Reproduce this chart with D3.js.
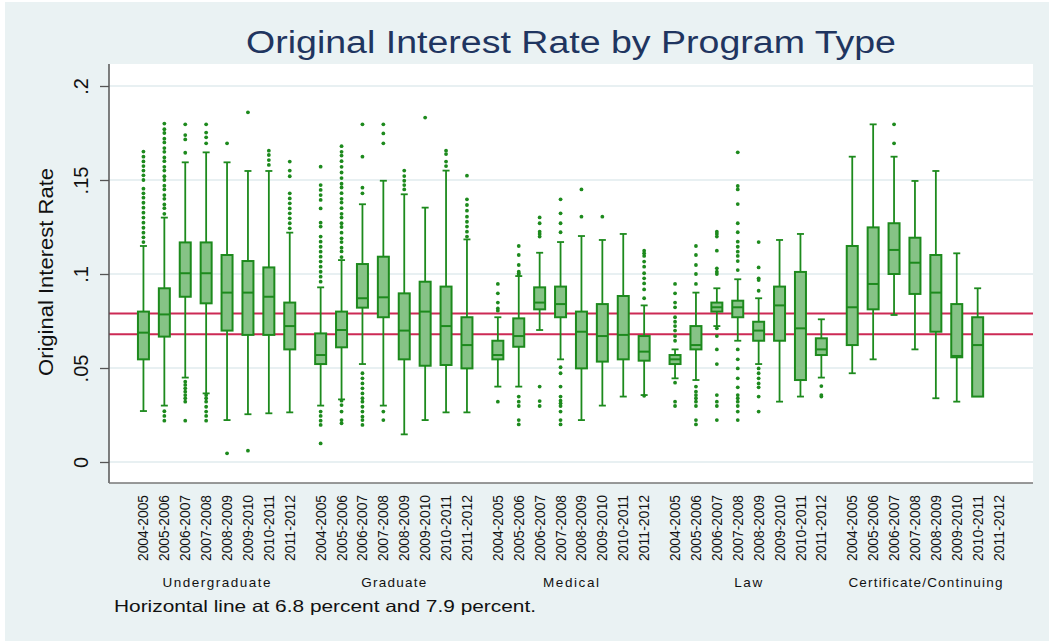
<!DOCTYPE html>
<html>
<head>
<meta charset="utf-8">
<script src="https://cdn.jsdelivr.net/npm/d3@7"></script>
<style>
    body { margin: 0; background: #ffffff; }
    svg { display: block; font-family: "Liberation Sans", Arial, Helvetica, sans-serif; }
</style>
</head>
<body>
<svg id="chart" width="1049" height="641"></svg>
<script>
const programs = ['Undergraduate', 'Graduate', 'Medical', 'Law', 'Certificate/Continuing'];
const years = ['2004-2005', '2005-2006', '2006-2007', '2007-2008', '2008-2009', '2009-2010', '2010-2011', '2011-2012'];
const yTicks = [0, 0.05, 0.1, 0.15, 0.2];
const yTickLabels = ['0', '.05', '.1', '.15', '.2'];
const refLines = [0.068, 0.079];

// one row per program, one value per year (null = no loans that year)
const upperWhisker = [
    [0.1149, 0.1300, 0.1594, 0.1647, 0.1594, 0.1548, 0.1548, 0.1220],
    [0.0929, 0.1074, 0.1371, 0.1496, 0.1424, 0.1353, 0.1550, 0.1184],
    [0.0770, 0.0989, 0.1113, 0.1170, 0.1202, 0.1181, 0.1213, 0.0833],
    [0.0599, 0.0901, 0.0924, 0.0972, 0.0871, 0.1181, 0.1213, 0.0759],
    [0.1624, 0.1796, 0.1624, 0.1495, 0.1548, 0.1110, 0.0924, null],
];
const q3 = [
    [0.0800, 0.0924, 0.1168, 0.1168, 0.1101, 0.1069, 0.1035, 0.0848],
    [0.0684, 0.0800, 0.1053, 0.1092, 0.0897, 0.0959, 0.0933, 0.0770],
    [0.0645, 0.0764, 0.0929, 0.0933, 0.0800, 0.0840, 0.0883, 0.0670],
    [0.0569, 0.0723, 0.0848, 0.0858, 0.0746, 0.0933, 0.1011, 0.0658],
    [0.1149, 0.1248, 0.1270, 0.1193, 0.1101, 0.0840, 0.0770, null],
];
const median = [
    [0.0688, 0.0785, 0.1004, 0.1004, 0.0901, 0.0901, 0.0879, 0.0723],
    [0.0569, 0.0702, 0.0871, 0.0876, 0.0699, 0.0800, 0.0723, 0.0622],
    [0.0569, 0.0670, 0.0848, 0.0840, 0.0693, 0.0670, 0.0676, 0.0587],
    [0.0546, 0.0622, 0.0823, 0.0823, 0.0699, 0.0833, 0.0711, 0.0599],
    [0.0823, 0.0947, 0.1128, 0.1060, 0.0901, 0.0564, 0.0622, null],
];
const q1 = [
    [0.0546, 0.0667, 0.0879, 0.0844, 0.0699, 0.0676, 0.0676, 0.0599],
    [0.0521, 0.0610, 0.0821, 0.0770, 0.0546, 0.0512, 0.0516, 0.0498],
    [0.0546, 0.0613, 0.0812, 0.0770, 0.0498, 0.0534, 0.0546, 0.0539],
    [0.0521, 0.0599, 0.0800, 0.0770, 0.0645, 0.0645, 0.0436, 0.0569],
    [0.0622, 0.0812, 0.1000, 0.0894, 0.0693, 0.0557, 0.0348, null],
];
const lowerWhisker = [
    [0.0271, 0.0300, 0.0449, 0.0365, 0.0223, 0.0254, 0.0259, 0.0264],
    [0.0300, 0.0333, 0.0521, 0.0300, 0.0147, 0.0223, 0.0264, 0.0264],
    [0.0401, 0.0401, 0.0702, 0.0546, 0.0223, 0.0300, 0.0348, 0.0356],
    [0.0445, 0.0436, 0.0723, 0.0645, 0.0521, 0.0321, 0.0348, 0.0449],
    [0.0472, 0.0546, 0.0782, 0.0599, 0.0339, 0.0321, 0.0348, null],
];
const outliers = [
    [
        [0.117, 0.1195, 0.122, 0.1246, 0.1273, 0.130, 0.1326, 0.1353, 0.1379, 0.1406, 0.1429, 0.1454, 0.150, 0.1525, 0.155, 0.1574, 0.1599, 0.1624, 0.1651],
        [0.132, 0.135, 0.137, 0.140, 0.142, 0.145, 0.147, 0.150, 0.152, 0.155, 0.157, 0.160, 0.162, 0.165, 0.167, 0.170, 0.172, 0.175, 0.177, 0.180, 0.027, 0.0245, 0.022],
        [0.1645, 0.1716, 0.1739, 0.1796, 0.0427, 0.041, 0.0392, 0.0374, 0.0356, 0.0339, 0.0321, 0.022],
        [0.1695, 0.1727, 0.1752, 0.1796, 0.0356, 0.0339, 0.0321, 0.0294, 0.0268, 0.0245, 0.022],
        [0.1695, 0.0046],
        [0.186, 0.006],
        [0.1656, 0.1633, 0.1606, 0.158],
        [0.1598, 0.155, 0.152, 0.1429, 0.1402, 0.1376, 0.1349, 0.1323, 0.1296, 0.127, 0.1243],
    ],
    [
        [0.1571, 0.1473, 0.1447, 0.142, 0.1394, 0.1349, 0.1273, 0.1252, 0.1199, 0.1172, 0.1145, 0.1119, 0.1092, 0.1066, 0.1039, 0.1012, 0.0986, 0.0959, 0.0268, 0.0245, 0.022, 0.0197, 0.0099],
        [0.109, 0.112, 0.114, 0.117, 0.119, 0.122, 0.125, 0.127, 0.130, 0.132, 0.135, 0.138, 0.140, 0.143, 0.146, 0.148, 0.151, 0.154, 0.157, 0.160, 0.163, 0.165, 0.168, 0.0326, 0.0303, 0.0268, 0.0223, 0.0206],
        [0.1796, 0.1624, 0.1459, 0.1429, 0.0472, 0.0445, 0.0418, 0.0392, 0.0365, 0.0339, 0.0321, 0.0294, 0.0268, 0.0241, 0.0223, 0.0197],
        [0.1796, 0.1748, 0.1695, 0.0268, 0.0223],
        [0.155, 0.1521, 0.1496, 0.1473, 0.145],
        [0.1832],
        [0.1656, 0.1638, 0.1598, 0.1574],
        [0.1523, 0.1397, 0.1367, 0.1337, 0.1305, 0.1278, 0.1252, 0.1225, 0.1199],
    ],
    [
        [0.0947, 0.0897, 0.0848, 0.0817, 0.0805, 0.0321],
        [0.1149, 0.1101, 0.1048, 0.1012, 0.1004, 0.0995, 0.0348, 0.0321, 0.0298, 0.0223, 0.020],
        [0.1301, 0.127, 0.1225, 0.1213, 0.1199, 0.0401, 0.0324, 0.0298],
        [0.1397, 0.1323, 0.127, 0.1222, 0.0504, 0.0472, 0.0401, 0.0348, 0.0326, 0.0312, 0.0298, 0.0268, 0.0223, 0.020],
        [0.145, 0.1305],
        [0.1305],
        [],
        [0.1124, 0.111, 0.1096, 0.1066, 0.1039, 0.1004, 0.0977, 0.095, 0.0918, 0.0871, 0.0352],
    ],
    [
        [0.0947, 0.0897, 0.0848, 0.0823, 0.077, 0.0746, 0.0723, 0.0699, 0.067, 0.0645, 0.0422, 0.0321, 0.0298],
        [0.1149, 0.1101, 0.1048, 0.100, 0.0947, 0.0401, 0.0374, 0.0356, 0.0339, 0.0321, 0.0298, 0.0223, 0.020],
        [0.1225, 0.1213, 0.1199, 0.1124, 0.103, 0.1012, 0.100, 0.0711, 0.067, 0.0599, 0.0521, 0.0356, 0.0321, 0.0298, 0.0223],
        [0.1647, 0.1468, 0.145, 0.1372, 0.127, 0.1222, 0.1172, 0.1145, 0.1119, 0.1096, 0.1069, 0.1021, 0.0599, 0.0546, 0.0498, 0.0445, 0.0397, 0.0356, 0.0339, 0.0321, 0.0298, 0.0268, 0.0223],
        [0.117, 0.1035, 0.0977, 0.0968, 0.0911, 0.0498, 0.0472, 0.0445, 0.0418, 0.0397, 0.0348, 0.0268],
        [],
        [],
        [0.0404, 0.0356, 0.0348],
    ],
    [
        [], [], [0.1796, 0.1695], [], [], [], [], [],
    ],
];

const svg = d3.select('#chart');
const W = 1049;
const H = 641;
const plot = { left: 109, right: 1033, top: 64, bottom: 483 };
const boxColor = '#1d8a1d';
const boxFill = '#86c386';

const y = d3.scaleLinear().domain([0, 0.2]).range([462, 86]);
const outer = d3.scaleBand()
    .domain(programs)
    .range([plot.left, plot.right])
    .paddingInner(0.0564)
    .paddingOuter(0.1354);
const inner = d3.scaleBand().domain(years).range([0, outer.bandwidth()]);

function cx(pi, yi)
{
    return outer(programs[pi]) + inner(years[yi]) + inner.bandwidth() / 2;
}

// background regions
svg.append('rect').attr('x', 5).attr('y', 2).attr('width', W - 5).attr('height', H - 2).attr('fill', '#eaf2f3');
svg.append('rect')
    .attr('x', plot.left)
    .attr('y', plot.top)
    .attr('width', plot.right - plot.left)
    .attr('height', plot.bottom - plot.top)
    .attr('fill', '#ffffff');

// grid
svg.append('g')
    .selectAll('line')
    .data(yTicks)
    .join('line')
    .attr('x1', plot.left)
    .attr('x2', plot.right)
    .attr('y1', (d) => y(d))
    .attr('y2', (d) => y(d))
    .attr('stroke', '#e8f0f2')
    .attr('stroke-width', 2);

// reference lines
svg.append('g')
    .selectAll('line')
    .data(refLines)
    .join('line')
    .attr('x1', plot.left)
    .attr('x2', plot.right)
    .attr('y1', (d) => y(d))
    .attr('y2', (d) => y(d))
    .attr('stroke', '#cc2a55')
    .attr('stroke-width', 2);

// y axis
const yAxis = svg.append('g')
    .attr('transform', `translate(${plot.left},0)`)
    .call(d3.axisLeft(y)
        .tickValues(yTicks)
        .tickSize(9)
        .tickFormat((d, i) => yTickLabels[i]));
yAxis.select('.domain').remove();
yAxis.selectAll('.tick line').attr('stroke', '#555555').attr('stroke-width', 1.3);
yAxis.selectAll('.tick text')
    .attr('transform', 'rotate(-90)')
    .attr('x', 0)
    .attr('y', -21.5)
    .attr('dy', 0)
    .attr('text-anchor', 'middle')
    .attr('font-size', 20)
    .attr('fill', '#111111');

svg.append('line')
    .attr('x1', plot.left).attr('x2', plot.left)
    .attr('y1', plot.top).attr('y2', plot.bottom)
    .attr('stroke', '#555555').attr('stroke-width', 1.5);
svg.append('line')
    .attr('x1', plot.left).attr('x2', plot.right)
    .attr('y1', plot.bottom).attr('y2', plot.bottom)
    .attr('stroke', '#777777').attr('stroke-width', 1.5);

// boxes
const boxW = 11;
const capW = 7;
const marks = svg.append('g');

programs.forEach((p, pi) =>
{
    years.forEach((yr, yi) =>
    {
        if (median[pi][yi] === null) return;
        const x = cx(pi, yi);
        const g = marks.append('g');

        g.append('line')
            .attr('x1', x).attr('x2', x)
            .attr('y1', y(q3[pi][yi])).attr('y2', y(upperWhisker[pi][yi]))
            .attr('stroke', boxColor).attr('stroke-width', 1.8);
        g.append('line')
            .attr('x1', x - capW / 2).attr('x2', x + capW / 2)
            .attr('y1', y(upperWhisker[pi][yi])).attr('y2', y(upperWhisker[pi][yi]))
            .attr('stroke', boxColor).attr('stroke-width', 1.8);

        if (lowerWhisker[pi][yi] < q1[pi][yi])
        {
            g.append('line')
                .attr('x1', x).attr('x2', x)
                .attr('y1', y(q1[pi][yi])).attr('y2', y(lowerWhisker[pi][yi]))
                .attr('stroke', boxColor).attr('stroke-width', 1.8);
            g.append('line')
                .attr('x1', x - capW / 2).attr('x2', x + capW / 2)
                .attr('y1', y(lowerWhisker[pi][yi])).attr('y2', y(lowerWhisker[pi][yi]))
                .attr('stroke', boxColor).attr('stroke-width', 1.8);
        }

        g.append('rect')
            .attr('x', x - boxW / 2)
            .attr('y', y(q3[pi][yi]))
            .attr('width', boxW)
            .attr('height', y(q1[pi][yi]) - y(q3[pi][yi]))
            .attr('fill', boxFill)
            .attr('stroke', boxColor)
            .attr('stroke-width', 2);
        g.append('line')
            .attr('x1', x - boxW / 2).attr('x2', x + boxW / 2)
            .attr('y1', y(median[pi][yi])).attr('y2', y(median[pi][yi]))
            .attr('stroke', boxColor).attr('stroke-width', 2);

        g.selectAll('circle')
            .data(outliers[pi][yi])
            .join('circle')
            .attr('cx', x)
            .attr('cy', (d) => y(d))
            .attr('r', 1.9)
            .attr('fill', boxColor);
    });
});

// x axis: one band axis per program
const groupLabelWidth = { 'Undergraduate': 108, 'Graduate': 65, 'Medical': 56, 'Law': 28, 'Certificate/Continuing': 154 };
programs.forEach((p) =>
{
    const ax = svg.append('g')
        .attr('transform', `translate(${outer(p)},${plot.bottom})`)
        .call(d3.axisBottom(inner).tickSize(0));
    ax.select('.domain').remove();
    ax.selectAll('.tick text')
        .attr('transform', 'rotate(-90)')
        .attr('x', -12)
        .attr('y', 0)
        .attr('dy', '0.36em')
        .attr('text-anchor', 'end')
        .attr('font-size', 14)
        .attr('textLength', 66)
        .attr('lengthAdjust', 'spacingAndGlyphs')
        .attr('fill', '#111111');

    svg.append('text')
        .attr('x', outer(p) + outer.bandwidth() / 2)
        .attr('y', 587)
        .attr('text-anchor', 'middle')
        .attr('font-size', 13.5)
        .attr('textLength', groupLabelWidth[p])
        .attr('lengthAdjust', 'spacing')
        .attr('fill', '#111111')
        .text(p);
});

// titles
svg.append('text')
    .attr('x', (plot.left + plot.right) / 2)
    .attr('y', 53)
    .attr('text-anchor', 'middle')
    .attr('font-size', 31)
    .attr('textLength', 650)
    .attr('lengthAdjust', 'spacingAndGlyphs')
    .attr('fill', '#1f3560')
    .text('Original Interest Rate by Program Type');

svg.append('text')
    .attr('transform', `translate(52.5,${(y(0) + y(0.2)) / 2 - 2}) rotate(-90)`)
    .attr('text-anchor', 'middle')
    .attr('font-size', 20)
    .attr('textLength', 208)
    .attr('lengthAdjust', 'spacingAndGlyphs')
    .attr('fill', '#111111')
    .text('Original Interest Rate');

svg.append('text')
    .attr('x', 114)
    .attr('y', 612)
    .attr('font-size', 16.5)
    .attr('textLength', 422)
    .attr('lengthAdjust', 'spacingAndGlyphs')
    .attr('fill', '#111111')
    .text('Horizontal line at 6.8 percent and 7.9 percent.');
</script>
</body>
</html>
